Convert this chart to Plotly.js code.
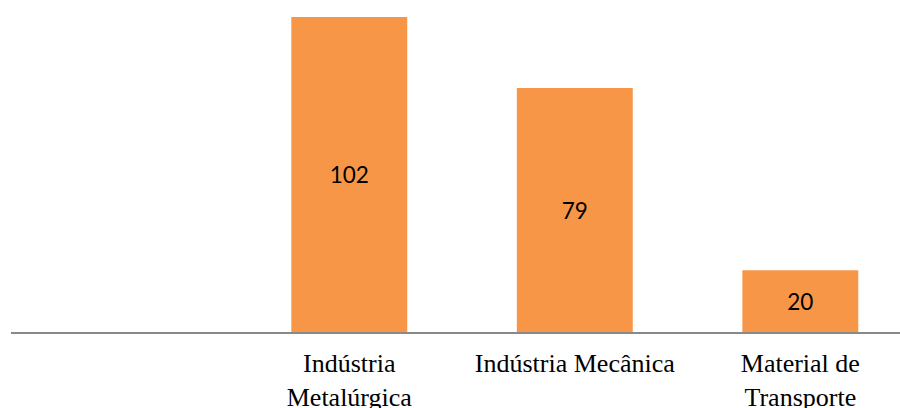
<!DOCTYPE html>
<html>
<head>
<meta charset="utf-8">
<script src="https://cdn.plot.ly/plotly-3.0.1.min.js"></script>
<style>html,body{margin:0;padding:0;overflow:hidden;background:#fff;}</style>
</head>
<body>
<div id="chart" style="width:900px;height:408px;"></div>
<script>
const categories = ["Indústria<br>Metalúrgica", "Indústria Mecânica", "Material de<br>Transporte"];
const values = [102, 79, 20];
const valueLabels = ["102", "79", "20"];

const trace = {
  type: "bar",
  x: categories,
  y: values,
  text: valueLabels,
  textposition: "inside",
  insidetextanchor: "middle",
  constraintext: "none",
  textfont: {family: "Lato, 'Open Sans', sans-serif", size: 22.5, color: "#000000"},
  marker: {color: "#F79646"},
  hoverinfo: "skip"
};

const layout = {
  width: 900,
  height: 408,
  margin: {l: 11, r: 0, t: 17, b: 76, pad: 0},
  paper_bgcolor: "#ffffff",
  plot_bgcolor: "#ffffff",
  bargap: 0.486,
  showlegend: false,
  xaxis: {
    type: "category",
    range: [-1.5, 2.442],
    showline: true,
    linecolor: "#898989",
    linewidth: 2,
    showgrid: false,
    zeroline: false,
    ticks: "",
    tickfont: {family: "'Liberation Serif', 'Times New Roman', serif", size: 26, color: "#000000"},
    ticklabelstandoff: 7,
    automargin: false,
    fixedrange: true
  },
  yaxis: {
    range: [0, 102],
    visible: false,
    showgrid: false,
    zeroline: false,
    fixedrange: true
  }
};

Plotly.newPlot("chart", [trace], layout, {displayModeBar: false, staticPlot: true});
</script>
</body>
</html>
